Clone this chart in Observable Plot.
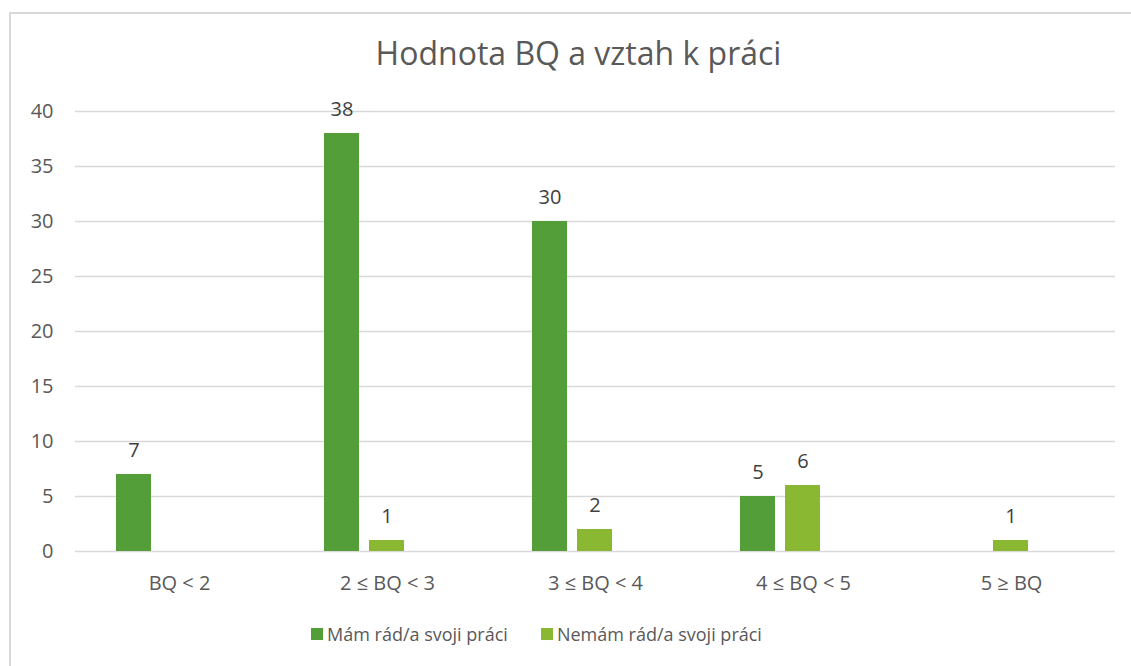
<!DOCTYPE html>
<html>
<head>
<meta charset="utf-8">
<script src="https://cdn.jsdelivr.net/npm/d3@7"></script>
<script src="https://cdn.jsdelivr.net/npm/@observablehq/plot@0.6"></script>
<style>
  html, body { margin: 0; padding: 0; background: #fff; overflow: hidden; }
  #wrap { position: relative; width: 1131px; height: 666px; overflow: hidden; font-family: 'Open Sans', sans-serif; }
  #frame { position: absolute; left: 9px; top: 12px; width: 1300px; height: 900px; border: 2px solid #d9d9d9; box-sizing: border-box; }
  #title { position: absolute; left: 0; width: 1157px; top: 31px; text-align: center; font-size: 32px; color: #595959; line-height: 44px; white-space: nowrap; }
  #chart { position: absolute; left: 0; top: 0; }
  #legend { position: absolute; top: 621px; left: 311px; font-size: 18px; color: #595959; display: flex; align-items: center; white-space: nowrap; line-height: 26px; }
  .sw { display: inline-block; width: 12px; height: 12px; margin-right: 4px; }
  .item { display: flex; align-items: center; margin-right: 33px; }
</style>
</head>
<body>
<div id="wrap">
  <div id="frame"></div>
  <div id="title">Hodnota BQ a vztah k práci</div>
  <div id="chart"></div>
  <div id="legend"></div>
</div>
<script>
const categories = ["BQ < 2", "2 ≤ BQ < 3", "3 ≤ BQ < 4", "4 ≤ BQ < 5", "5 ≥ BQ"];
const seriesNames = ["Mám rád/a svoji práci", "Nemám rád/a svoji práci"];
const likeValues = [7, 38, 30, 5, 0];
const dislikeValues = [0, 1, 2, 6, 1];
const seriesColors = ["#549E39", "#8AB833"];
const yTicks = [0, 5, 10, 15, 20, 25, 30, 35, 40];

const data = [];
categories.forEach((c, i) => {
  data.push({cat: c, series: seriesNames[0], value: likeValues[i]});
  data.push({cat: c, series: seriesNames[1], value: dislikeValues[i]});
});

const chart = Plot.plot({
  width: 1131,
  height: 666,
  marginLeft: 74,
  marginRight: 16,
  marginTop: 111,
  marginBottom: 115,
  style: {fontFamily: "'Open Sans', sans-serif", fontSize: "20px", color: "#595959", background: "transparent", overflow: "visible"},
  fx: {domain: categories, padding: 0, label: null, tickSize: 0, tickPadding: 24, axis: "bottom"},
  x: {domain: [...seriesNames, " "], paddingInner: 0.217, paddingOuter: 0.87, axis: null},
  y: {domain: [0, 40], ticks: yTicks, tickSize: 0, tickPadding: 22, label: null},
  color: {domain: seriesNames, range: seriesColors},
  marks: [
    Plot.ruleY(yTicks, {stroke: "#d9d9d9", strokeWidth: 1.5}),
    Plot.barY(data, {fx: "cat", x: "series", y: "value", fill: "series"}),
    Plot.text(data.filter(d => d.value > 0), {fx: "cat", x: "series", y: "value", text: d => String(d.value), dy: -24, fill: "#404040", fontSize: 20})
  ]
});
document.getElementById("chart").appendChild(chart);

const legend = document.getElementById("legend");
seriesNames.forEach((s, i) => {
  const item = document.createElement("div");
  item.className = "item";
  const sw = document.createElement("span");
  sw.className = "sw";
  sw.style.background = seriesColors[i];
  const t = document.createElement("span");
  t.textContent = s;
  item.appendChild(sw);
  item.appendChild(t);
  legend.appendChild(item);
});
</script>
</body>
</html>
